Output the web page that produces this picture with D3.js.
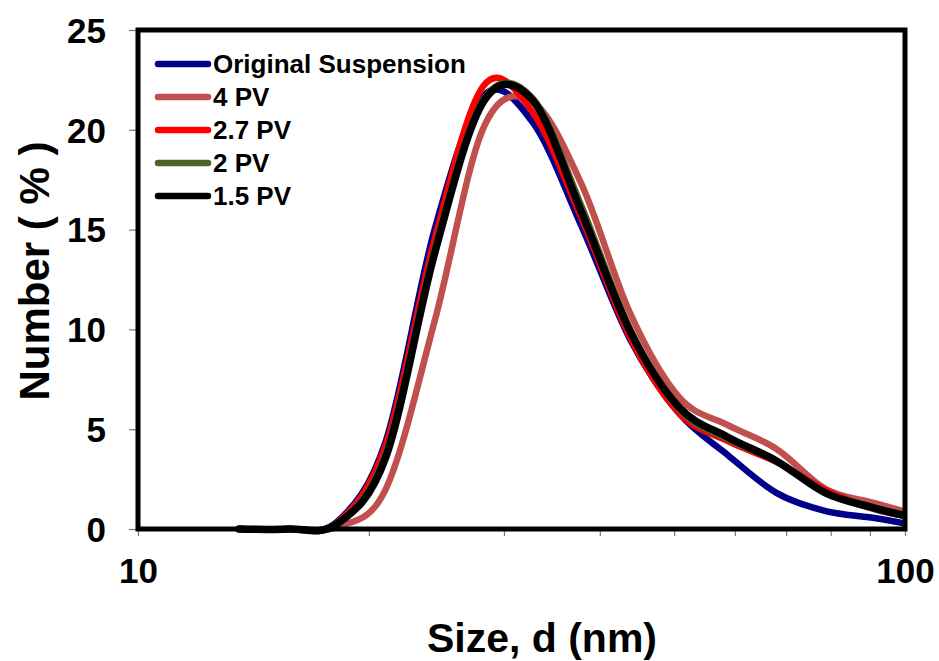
<!DOCTYPE html>
<html>
<head>
<meta charset="utf-8">
<script src="https://cdn.jsdelivr.net/npm/d3@7"></script>
<style>
  html, body { margin: 0; padding: 0; background: #fff; }
  svg text { font-family: Arial, "Liberation Sans", sans-serif; font-weight: bold; fill: #000; }
</style>
</head>
<body>
<svg id="chart" width="939" height="661"></svg>
<script>
// Size bins (nm)
const sizes = [13.54, 15.69, 18.17, 21.04, 24.36, 28.21, 32.67, 37.84, 43.82, 50.75, 58.77, 68.06, 78.82, 91.28, 105.7];

const seriesNames = ["Original Suspension", "4 PV", "2.7 PV", "2 PV", "1.5 PV"];
const seriesColors = ["#00008B", "#C0504D", "#FF0000", "#4F6228", "#000000"];

const originalSuspension = [0, 0, 0.35, 4.4, 15.0, 21.7, 20.4, 15.2, 9.5, 5.8, 3.7, 1.8, 0.9, 0.55, 0.1];
const pv4  = [0, 0, 0.1, 2.0, 10.4, 20.1, 21.4, 17.3, 10.8, 6.6, 5.2, 4.0, 2.0, 1.3, 0.6];
const pv27 = [0, 0, 0.3, 4.2, 14.5, 22.2, 20.9, 15.6, 9.6, 5.8, 4.4, 3.35, 1.95, 1.0, 0.5];
const pv2  = [0, 0, 0.25, 3.8, 14.0, 21.5, 21.6, 16.2, 10.0, 6.0, 4.5, 3.4, 1.85, 1.0, 0.5];
const pv15 = [0, 0, 0.25, 3.6, 13.8, 21.4, 21.5, 15.9, 9.9, 6.1, 4.6, 3.4, 1.8, 1.05, 0.45];
const seriesValues = [originalSuspension, pv4, pv27, pv2, pv15];

const xTickLabels = [10, 100];
const xMinorTicks = [20, 30, 40, 50, 60, 70, 80, 90];
const yTicks = [0, 5, 10, 15, 20, 25];

const svg = d3.select("#chart");
const L = 138, R = 905, T = 30, B = 529;

const x = d3.scaleLog().domain([10, 100]).range([L, R]);
const y = d3.scaleLinear().domain([0, 25]).range([B, T]);

svg.append("defs").append("clipPath").attr("id", "plotclip")
  .append("rect").attr("x", L).attr("y", T - 10).attr("width", R - L).attr("height", B - T + 20);

// Y axis ticks & labels
const yAxis = d3.axisLeft(y).tickValues(yTicks).tickSize(9).tickPadding(23).tickFormat(d3.format("d"));
const gy = svg.append("g").attr("transform", `translate(${L},0)`).call(yAxis);
gy.select(".domain").remove();
gy.selectAll(".tick line").attr("stroke", "#777").attr("stroke-width", 1.2);
gy.selectAll(".tick text").style("font-size", "35px").attr("dy", "0.35em");

// X axis ticks
const xAxisMinor = d3.axisBottom(x).tickValues(xMinorTicks).tickSize(7).tickFormat("");
const gxm = svg.append("g").attr("transform", `translate(0,${B})`).call(xAxisMinor);
gxm.select(".domain").remove();
gxm.selectAll(".tick line").attr("stroke", "#777").attr("stroke-width", 1.2);

const xAxis = d3.axisBottom(x).tickValues(xTickLabels).tickSize(7).tickPadding(22).tickFormat(d3.format("d"));
const gx = svg.append("g").attr("transform", `translate(0,${B})`).call(xAxis);
gx.select(".domain").remove();
gx.selectAll(".tick line").attr("stroke", "#777").attr("stroke-width", 1.2);
gx.selectAll(".tick text").style("font-size", "35px").attr("dy", "0.71em");

// Lines
const line = d3.line()
  .x((d, i) => x(sizes[i]))
  .y(d => y(d))
  .curve(d3.curveCatmullRom.alpha(0));

const gLines = svg.append("g").attr("clip-path", "url(#plotclip)");
seriesValues.forEach((vals, k) => {
  gLines.append("path")
    .datum(vals)
    .attr("d", line)
    .attr("fill", "none")
    .attr("stroke", seriesColors[k])
    .attr("stroke-width", k === 4 ? 7.5 : 6.5)
    .attr("stroke-linejoin", "round")
    .attr("stroke-linecap", "round");
});

// Frame
svg.append("rect")
  .attr("x", L).attr("y", T).attr("width", R - L).attr("height", B - T)
  .attr("fill", "none").attr("stroke", "#000").attr("stroke-width", 5);

// Legend
const legend = svg.append("g");
seriesNames.forEach((name, k) => {
  const cy = 64 + k * 33;
  legend.append("line")
    .attr("x1", 158).attr("x2", 208).attr("y1", cy).attr("y2", cy)
    .attr("stroke", seriesColors[k]).attr("stroke-width", 6.5).attr("stroke-linecap", "round");
  legend.append("text")
    .attr("x", 213).attr("y", cy).attr("dy", "0.36em")
    .style("font-size", "26px")
    .text(name);
});

// Axis titles
svg.append("text")
  .attr("x", 542).attr("y", 652)
  .attr("text-anchor", "middle")
  .style("font-size", "41px")
  .text("Size, d (nm)");

svg.append("text")
  .attr("transform", "translate(49,271) rotate(-90)")
  .attr("text-anchor", "middle")
  .style("font-size", "42px")
  .text("Number ( % )");
</script>
</body>
</html>
